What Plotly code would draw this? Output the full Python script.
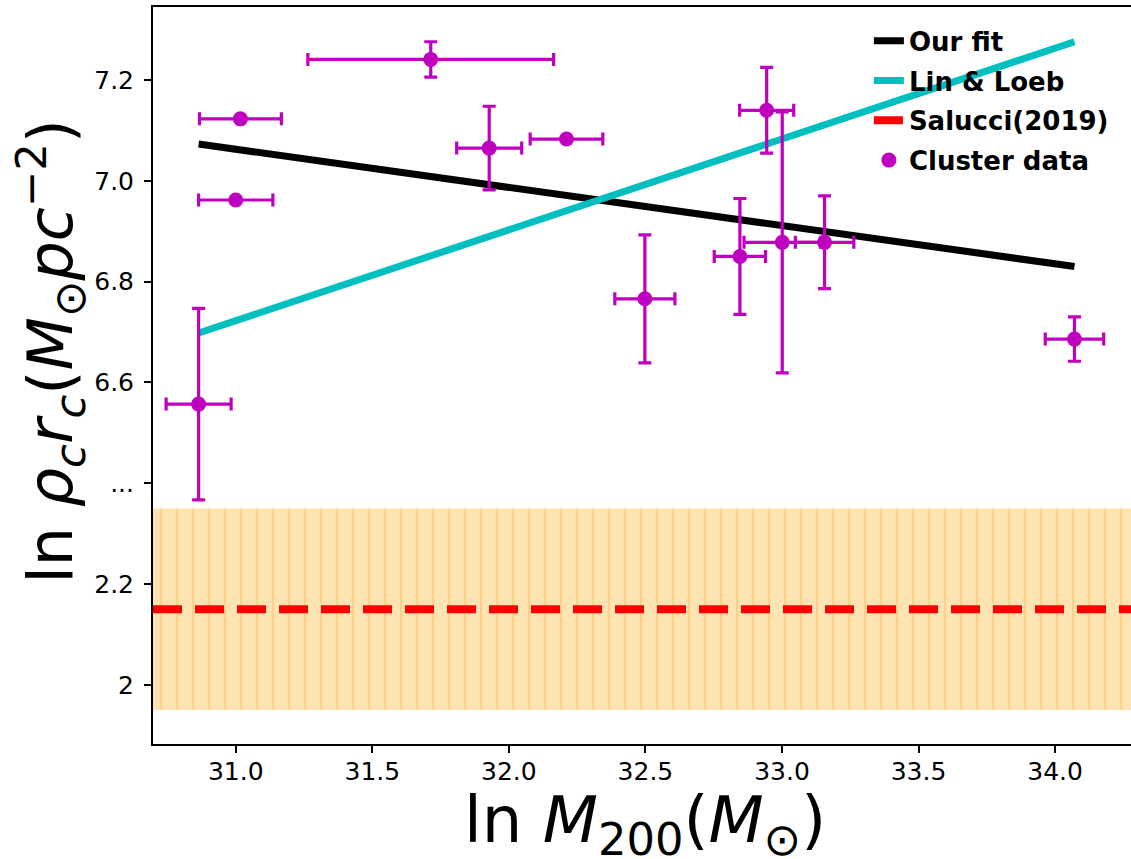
import plotly.graph_objects as go

# ---------------- data ----------------
ln_m200 = [30.864, 31.000, 31.017, 31.714, 31.928, 32.211, 32.498, 32.846, 32.944, 33.001, 33.156, 34.071]
ln_m200_err = [0.119, 0.136, 0.150, 0.450, 0.119, 0.133, 0.110, 0.094, 0.099, 0.140, 0.107, 0.107]
ln_rho_r = [6.557, 6.962, 7.123, 7.241, 7.065, 7.083, 6.766, 6.850, 7.140, 6.878, 6.878, 6.686]
ln_rho_r_err = [0.190, 0.0, 0.0, 0.035, 0.083, 0.0, 0.127, 0.115, 0.085, 0.259, 0.092, 0.044]

fit_x = [30.864, 34.071]
our_fit_y = [7.073, 6.830]
lin_loeb_y = [6.698, 7.276]

salucci_value = 2.15
salucci_err = 0.20

# broken y axis: values of the lower segment are drawn shifted upward
BREAK_SHIFT = 4.0
ytick_pos = [6.0, 6.2, 6.4, 6.6, 6.8, 7.0, 7.2]
ytick_text = ["2", "2.2", "...", "6.6", "6.8", "7.0", "7.2"]
xtick_vals = [31.0, 31.5, 32.0, 32.5, 33.0, 33.5, 34.0]

x_range = [30.697, 34.278]
y_range = [5.8825, 7.345]

FONT = "DejaVu Sans"


def lower(v):
    return v + BREAK_SHIFT


fig = go.Figure()

# Salucci band (hatched)
band_lo = lower(salucci_value - salucci_err)
band_hi = lower(salucci_value + salucci_err)
fig.add_trace(go.Scatter(
    x=[x_range[0], x_range[1], x_range[1], x_range[0], x_range[0]],
    y=[band_lo, band_lo, band_hi, band_hi, band_lo],
    mode="lines", fill="toself", line=dict(width=0, color="rgba(0,0,0,0)"),
    fillcolor="#FFE4B2",
    fillpattern=dict(shape="|", size=16, solidity=0.15, fgcolor="#FFD28A",
                     bgcolor="#FFE4B2", fillmode="replace"),
    showlegend=False, hoverinfo="skip",
))

fig.add_trace(go.Scatter(
    x=fit_x, y=our_fit_y, mode="lines", name="Our fit",
    line=dict(color="black", width=7), legendgroup="a",
))
fig.add_trace(go.Scatter(
    x=fit_x, y=lin_loeb_y, mode="lines", name="Lin & Loeb",
    line=dict(color="#00BFBF", width=7), legendgroup="b",
))
fig.add_trace(go.Scatter(
    x=x_range, y=[lower(salucci_value)] * 2, mode="lines", name="Salucci(2019)",
    line=dict(color="#FF0000", width=8, dash="29px,13px"), legendgroup="c",
))
fig.add_trace(go.Scatter(
    x=ln_m200, y=ln_rho_r, mode="markers", name="Cluster data",
    marker=dict(color="#BF00BF", size=15),
    error_x=dict(type="data", array=ln_m200_err, color="#BF00BF", thickness=3.2, width=6.5),
    error_y=dict(type="data", array=ln_rho_r_err, color="#BF00BF", thickness=3.2, width=6.5),
    legendgroup="d",
))

axis_common = dict(
    showline=True, linecolor="black", linewidth=2,
    ticks="outside", ticklen=7, tickwidth=2, tickcolor="black",
    showgrid=False, zeroline=False,
    tickfont=dict(family=FONT, size=25, color="black"),
)

fig.update_layout(
    width=1131, height=859,
    margin=dict(l=153, r=0, t=7, b=115),
    paper_bgcolor="white", plot_bgcolor="white",
    font=dict(family=FONT, color="black"),
    xaxis=dict(range=x_range, tickvals=xtick_vals,
               ticktext=[f"{v:.1f}" for v in xtick_vals], mirror=True,
               ticklabelstandoff=-3,
               **axis_common),
    yaxis=dict(range=y_range, tickvals=ytick_pos, ticktext=ytick_text,
               ticklabelstandoff=5,
               **axis_common),
    legend=dict(x=0.732, y=0.986, xanchor="left", yanchor="top",
                bgcolor="rgba(0,0,0,0)", tracegroupgap=3,
                traceorder="grouped",
                font=dict(family=FONT, size=26, color="black", weight="bold")),
    annotations=[
        dict(
            text="ln <i>M</i><sub>200</sub>(<i>M</i><sub>⊙</sub>)",
            xref="paper", yref="paper", x=0.503, y=-0.050, xanchor="center", yanchor="top",
            showarrow=False, font=dict(family=FONT, size=64, color="black"),
        ),
        dict(
            text="ln <i>ρ</i><sub><i>c</i></sub><i>r</i><sub><i>c</i></sub>(<i>M</i><sub>⊙</sub><i>pc</i><sup>−2</sup>)",
            xref="paper", yref="paper", x=-0.105, y=0.533, xanchor="center", yanchor="middle",
            textangle=-90, showarrow=False, font=dict(family=FONT, size=62, color="black"),
        ),
    ],
)

fig.write_html(
    "out.html",
    config={"displayModeBar": False},
    post_script="document.body.style.margin='0';document.body.style.overflow='hidden';",
)
